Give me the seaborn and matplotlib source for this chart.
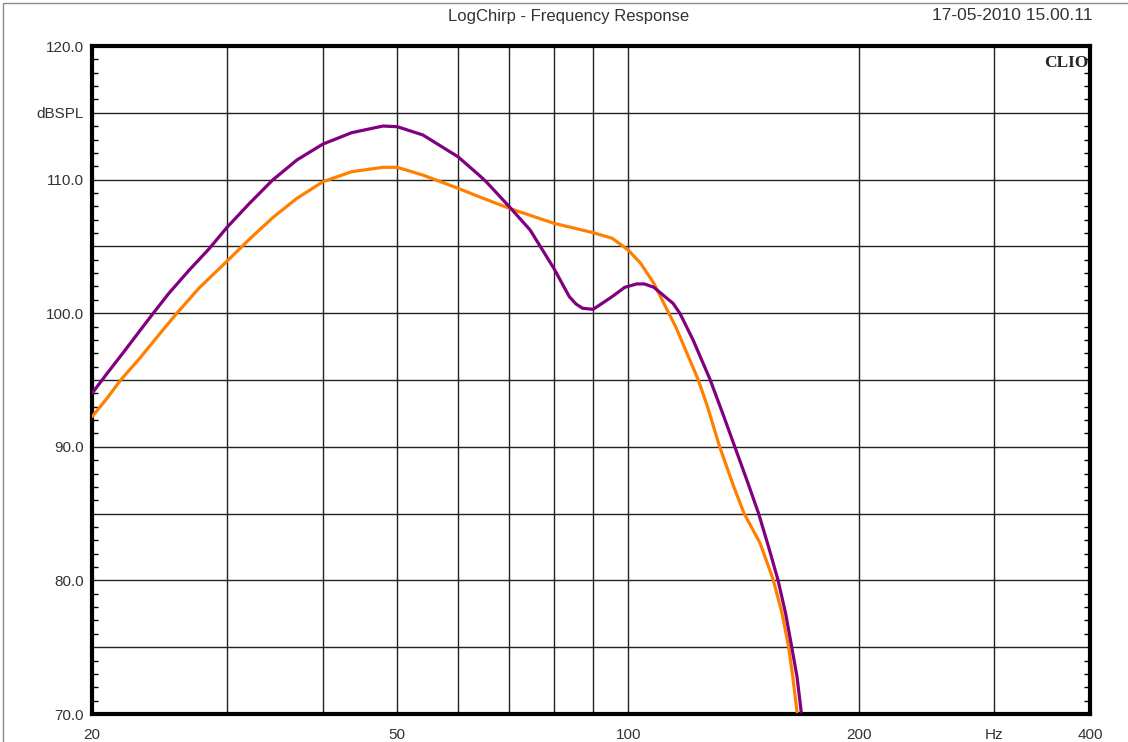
import matplotlib
matplotlib.use("Agg")
import matplotlib.pyplot as plt
import seaborn as sns
import pandas as pd
from matplotlib.ticker import FixedLocator, NullLocator, MultipleLocator
from matplotlib.patches import Rectangle

# ---- data ----
purple_freq = [20.0, 20.9, 22.0, 23.1, 24.0, 25.2, 26.8, 28.4, 30.0, 32.1, 34.4,
               37.0, 40.0, 43.6, 47.9, 50.0, 54.0, 60.0, 63.9, 65.3, 70.0,
               74.5, 80.0, 83.8, 85.5, 87.2, 90.0, 92.5, 95.3, 99.0, 102.6, 105.0,
               108.0, 114.4, 116.8, 121.5, 127.8, 133.1, 137.6, 142.8, 147.9,
               152.4, 156.7, 160.4, 163.3, 166.0, 168.1]
purple_db = [94.0, 95.45, 97.1, 98.7, 99.95, 101.5, 103.25, 104.8, 106.43, 108.23, 109.97,
             111.47, 112.66, 113.51, 114.01, 113.96, 113.34, 111.71, 110.34, 109.84, 107.97,
             106.23, 103.36, 101.24, 100.69, 100.37, 100.29, 100.74, 101.24, 101.94, 102.19, 102.19,
             101.94, 100.74, 99.99, 98.0, 95.07, 92.35, 90.06, 87.51, 85.02,
             82.52, 80.08, 77.54, 75.09, 72.79, 70.17]

orange_freq = [20.0, 20.9, 21.8, 23.1, 24.3, 25.8, 27.6, 30.0, 32.1, 34.4,
               37.0, 40.0, 43.6, 47.9, 50.0, 54.0, 60.0, 63.9, 70.0, 80.0,
               90.0, 95.3, 100.0, 103.8, 108.0, 111.3, 115.3, 116.8, 123.3, 126.9,
               131.5, 137.3, 141.6, 148.6, 154.5, 158.7, 161.8, 163.9, 166.0]
orange_db = [92.25, 93.6, 95.0, 96.65, 98.2, 100.0, 101.9, 103.9, 105.55, 107.15,
             108.6, 109.84, 110.59, 110.92, 110.92, 110.34, 109.35, 108.72, 107.85, 106.73,
             106.03, 105.61, 104.73, 103.74, 102.24, 100.74, 99.0, 98.24, 95.07, 93.0,
             90.06, 87.01, 85.02, 82.78, 80.08, 77.54, 75.09, 72.79, 70.17]

x_ticks = [20, 30, 40, 50, 60, 70, 80, 90, 100, 200, 300, 400]
x_labels = ["20", "", "", "50", "", "", "", "", "100", "200", "Hz", "400"]
y_ticks = [70, 75, 80, 85, 90, 95, 100, 105, 110, 115, 120]
y_labels = ["70.0", "", "80.0", "", "90.0", "", "100.0", "", "110.0", "dBSPL", "120.0"]

title = "LogChirp - Frequency Response"
stamp = "17-05-2010 15.00.11"

# ---- plot ----
sns.set_style("white")
plt.rcParams["font.family"] = ["Liberation Sans", "DejaVu Sans"]

fig = plt.figure(figsize=(11.28, 7.42), dpi=100)
ax = fig.add_axes([92/1128, 1 - 714/742, (1090 - 92)/1128, (714 - 46)/742])

df_p = pd.DataFrame({"f": purple_freq, "db": purple_db})
df_o = pd.DataFrame({"f": orange_freq, "db": orange_db})
sns.lineplot(data=df_o, x="f", y="db", ax=ax, color="#FF8000", lw=2.3, zorder=3)
sns.lineplot(data=df_p, x="f", y="db", ax=ax, color="#800080", lw=2.3, zorder=4)

ax.set_xscale("log")
ax.set_xlim(20, 400)
ax.set_ylim(70, 120)
ax.xaxis.set_major_locator(FixedLocator(x_ticks))
ax.xaxis.set_minor_locator(NullLocator())
ax.set_xticklabels(x_labels)
ax.yaxis.set_major_locator(FixedLocator(y_ticks))
ax.set_yticklabels(y_labels)
ax.yaxis.set_minor_locator(MultipleLocator(1))
ax.set_xlabel("")
ax.set_ylabel("")

ax.grid(True, which="major", color="#222222", lw=1.0)
ax.set_axisbelow(True)
ax.tick_params(axis="x", which="major", length=0, pad=10, labelsize=11, labelcolor="#333333")
ax.tick_params(axis="y", which="major", length=0, pad=6, labelsize=11, labelcolor="#333333")
ax.tick_params(axis="y", which="minor", direction="in", length=4, width=1,
               left=True, right=True, color="black")
for s in ax.spines.values():
    s.set_visible(True)
    s.set_color("black")
    s.set_linewidth(3)

ax.text(0.998, 0.986, "CLIO", transform=ax.transAxes, ha="right", va="top",
        fontsize=12.5, fontweight="bold", family=["Liberation Serif", "DejaVu Serif"])

fig.text(569/1128, 1 - 16/742, title, ha="center", va="center", fontsize=12, color="#333333")
fig.text(1092/1128, 1 - 16/742, stamp, ha="right", va="center", fontsize=12.5, color="#333333")

fig.patches.append(Rectangle((3/1128, -0.1), 1.2, 1.1 - 3/742, transform=fig.transFigure,
                             fill=False, edgecolor="#888888", lw=1.0))

fig.savefig("out.png", dpi=100)
